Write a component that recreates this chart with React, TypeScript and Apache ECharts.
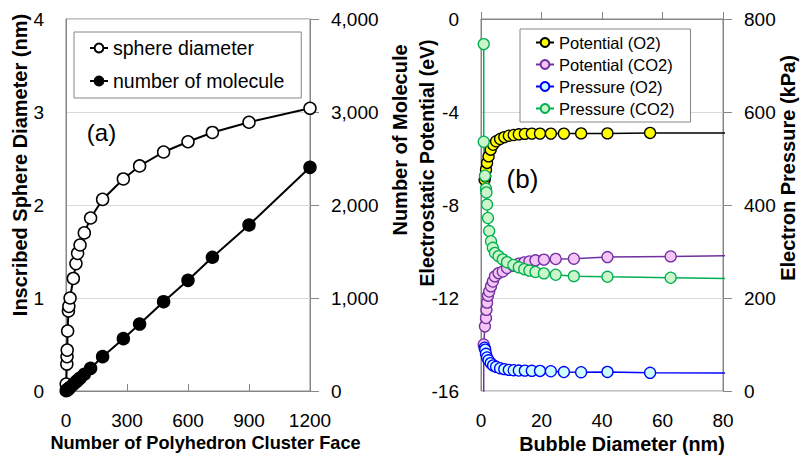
import React, { useEffect, useRef } from 'react';
import * as echarts from 'echarts';

// Panel (a)
const faceCount = [1, 4, 5, 6, 8, 12, 14, 20, 36, 49, 57, 69, 90, 121, 180, 282, 362, 480, 600, 720, 900, 1200];
const sphereDiameter = [0.075, 0.29, 0.37, 0.44, 0.645, 0.86, 0.91, 1.0, 1.21, 1.37, 1.48, 1.57, 1.7, 1.86, 2.06, 2.28, 2.42, 2.57, 2.68, 2.78, 2.89, 3.04];
const moleculeCount = [4, 8, 10, 12, 16, 24, 28, 40, 72, 98, 114, 138, 180, 244, 369, 563, 720, 960, 1190, 1438, 1785, 2405];

// Panel (b)
const o2Diameter = [1.2, 1.4, 1.65, 2.0, 2.5, 3.2, 4.0, 5.0, 6.3, 7.7, 9.2, 10.8, 12.5, 14.5, 16.8, 19.5, 23.1, 27.4, 33.1, 41.8, 55.9, 100];
const o2Potential = [-6.91, -6.77, -6.48, -6.19, -5.91, -5.62, -5.41, -5.26, -5.16, -5.08, -5.02, -4.99, -4.96, -4.94, -4.93, -4.93, -4.93, -4.93, -4.92, -4.92, -4.9, -4.9];
const o2Pressure = [93, 89, 80, 72, 66, 60, 55, 52, 49, 47, 45.5, 44.7, 44, 43.8, 43.4, 43.2, 42.5, 40.8, 40.4, 41.0, 39.1, 38.5];

const co2Diameter = [0.9, 0.9, 1.3, 1.65, 1.8, 2.0, 2.3, 2.7, 3.3, 3.9, 4.6, 5.8, 7.2, 8.6, 10.7, 12.5, 14.3, 16.0, 18.0, 20.8, 24.7, 30.7, 41.8, 62.7, 100];
const co2Potential = [-17, -14.0, -13.22, -12.86, -12.51, -12.2, -11.9, -11.72, -11.5, -11.29, -11.07, -10.93, -10.86, -10.71, -10.61, -10.52, -10.47, -10.43, -10.38, -10.35, -10.32, -10.31, -10.24, -10.21, -10.15];
const co2Pressure = [746, 536, 463, 435, 427, 401, 372, 344, 322, 308, 297, 290, 283, 277, 271, 266, 262, 259, 256, 253, 250, 247, 245.6, 243.5, 240];

const FONT = 'Liberation Sans, Arial, sans-serif';
const AXIS_GRAY = '#868686';

const zip = (xs: number[], ys: number[]) => xs.map((x, i) => [x, ys[i]]);

export default function App() {
  const ref = useRef<HTMLDivElement>(null);
  useEffect(() => {
    if (!ref.current) return;
    const chart = echarts.init(ref.current, undefined, { renderer: 'svg' });

    const xAxisBase = (grid: number, max: number, interval: number) => ({
      type: 'value',
      gridIndex: grid,
      min: 0,
      max,
      interval,
      axisLine: { show: true, lineStyle: { color: AXIS_GRAY, width: 1 } },
      axisTick: { show: true, inside: true, length: 7, lineStyle: { color: AXIS_GRAY } },
      axisLabel: { fontSize: 19, color: '#000', fontFamily: FONT, margin: 20, formatter: (v: number) => String(v) },
      splitLine: { show: false },
    });
    const yLeft = (grid: number, min: number, max: number, interval: number) => ({
      type: 'value',
      gridIndex: grid,
      position: 'left',
      min,
      max,
      interval,
      axisLine: { show: true, lineStyle: { color: AXIS_GRAY, width: 1 } },
      axisTick: { show: false },
      axisLabel: { fontSize: 19, color: '#000', fontFamily: FONT, margin: 22, formatter: (v: number) => String(v) },
      splitLine: { show: true, lineStyle: { color: '#d9d9d9', width: 1 } },
    });
    const yRight = (grid: number, max: number, interval: number, fmt: (v: number) => string) => ({
      type: 'value',
      gridIndex: grid,
      position: 'right',
      min: 0,
      max,
      interval,
      axisLine: { show: true, lineStyle: { color: AXIS_GRAY, width: 1 } },
      axisTick: { show: true, inside: false, length: 9, lineStyle: { color: AXIS_GRAY } },
      axisLabel: { fontSize: 19, color: '#000', fontFamily: FONT, margin: 21, formatter: fmt },
      splitLine: { show: false },
    });

    const lineSeries = (
      name: string,
      xi: number,
      yi: number,
      data: number[][],
      fill: string,
      stroke: string,
      lw: number,
      size: number,
      bw: number
    ) => ({
      name,
      type: 'line',
      xAxisIndex: xi,
      yAxisIndex: yi,
      data,
      symbol: 'circle',
      symbolSize: size,
      showSymbol: true,
      clip: true,
      itemStyle: { color: fill, borderColor: stroke, borderWidth: bw },
      lineStyle: { color: stroke, width: lw },
      emphasis: { disabled: true },
    });

    const titleText = (text: string, x: number, y: number, vertical: boolean, size = 20, bold = true) => ({
      type: 'text',
      x,
      y,
      rotation: vertical ? Math.PI / 2 : 0,
      style: {
        text,
        fill: '#000',
        font: `${bold ? 'bold ' : ''}${size}px ${FONT}`,
        textAlign: 'center',
        textVerticalAlign: 'middle',
      },
    });

    chart.setOption({
      animation: false,
      backgroundColor: '#fff',
      grid: [
        { left: 66, top: 19, width: 244, height: 372, show: true, borderColor: AXIS_GRAY, borderWidth: 1, backgroundColor: 'transparent' },
        { left: 481, top: 19, width: 242, height: 372, show: true, borderColor: AXIS_GRAY, borderWidth: 1, backgroundColor: 'transparent' },
      ],
      xAxis: [xAxisBase(0, 1200, 300), xAxisBase(1, 80, 20)],
      yAxis: [
        yLeft(0, 0, 4, 1),
        yRight(0, 4000, 1000, (v: number) => v.toLocaleString('en-US')),
        yLeft(1, -16, 0, 4),
        yRight(1, 800, 200, (v: number) => String(v)),
      ],
      legend: [
        {
          data: ['sphere diameter', 'number of molecule'],
          left: 74,
          top: 32,
          orient: 'vertical',
          padding: [6, 17, 7, 15],
          itemGap: 13,
          itemWidth: 18,
          itemHeight: 11,
          borderColor: AXIS_GRAY,
          borderWidth: 1,
          backgroundColor: '#fff',
          selectedMode: false,
          textStyle: { fontSize: 19.5, color: '#000', fontFamily: FONT },
        },
        {
          data: ['Potential (O2)', 'Potential (CO2)', 'Pressure (O2)', 'Pressure (CO2)'],
          left: 520,
          top: 29,
          orient: 'vertical',
          padding: [5, 16, 5, 15],
          itemGap: 5,
          itemWidth: 18,
          itemHeight: 11,
          borderColor: AXIS_GRAY,
          borderWidth: 1,
          backgroundColor: '#fff',
          selectedMode: false,
          textStyle: { fontSize: 16.5, color: '#000', fontFamily: FONT },
        },
      ],
      series: [
        lineSeries('sphere diameter', 0, 0, zip(faceCount, sphereDiameter), '#ffffff', '#000000', 2, 12, 1.5),
        lineSeries('number of molecule', 0, 1, zip(faceCount, moleculeCount), '#000000', '#000000', 2, 12, 1.5),
        lineSeries('Potential (O2)', 1, 2, zip(o2Diameter, o2Potential), '#ffff00', '#000000', 1.5, 11, 1.3),
        lineSeries('Potential (CO2)', 1, 2, zip(co2Diameter, co2Potential), '#f5c6f5', '#7030a0', 1.5, 11, 1.3),
        lineSeries('Pressure (O2)', 1, 3, zip(o2Diameter, o2Pressure), '#ccffff', '#0000ff', 1.5, 11, 1.3),
        lineSeries('Pressure (CO2)', 1, 3, zip(co2Diameter, co2Pressure), '#ccf5cc', '#00b050', 1.5, 11, 1.3),
      ],
      graphic: [
        titleText('Inscribed Sphere Diameter (nm)', 20, 165, true, 20),
        titleText('Number of Molecule', 400, 140, true, 20),
        titleText('Electrostatic Potential (eV)', 427, 163, true, 19.5),
        titleText('Electron Pressure (kPa)', 788, 168, true, 20),
        titleText('Number of Polyhedron Cluster Face', 205.5, 443, false, 18.2),
        titleText('Bubble Diameter (nm)', 622, 444, false, 19.8),
        titleText('(a)', 101.5, 132, false, 24, false),
        titleText('(b)', 522.5, 178.5, false, 26, false),
      ],
    });
    return () => chart.dispose();
  }, []);
  return <div ref={ref} style={{ position: 'fixed', left: 0, top: 0, width: 804, height: 455 }} />;
}
